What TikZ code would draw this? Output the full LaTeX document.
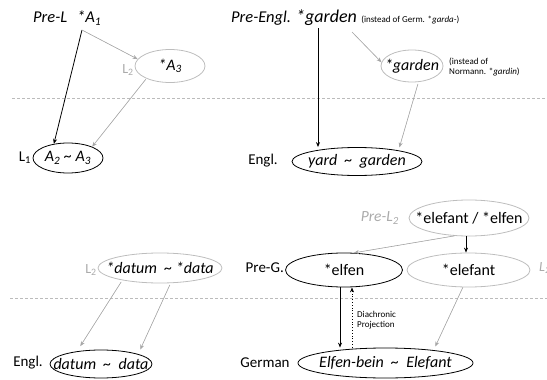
\documentclass[tikz,border=0pt]{standalone}
\usepackage{fontspec}
\setmainfont{Carlito}
\usetikzlibrary{shapes.geometric,arrows.meta}
\definecolor{lgray}{HTML}{A6A6A6}
\definecolor{egray}{HTML}{BDBDBD}
\definecolor{tgray}{HTML}{ABABAB}
\definecolor{dgray}{HTML}{BBBBBB}
% centred text that does not widen the ellipse around it
\newcommand\ovtext[1]{\makebox[0pt][c]{#1}}
\tikzset{
  ov/.style={ellipse, draw, inner sep=0pt, line width=0.8pt, font=\fontsize{16}{18}\selectfont},
  ovg/.style={ov, draw=egray},
  arr/.style={-{Stealth[length=5pt,width=4pt]}, line width=0.8pt},
  garr/.style={arr, draw=lgray, line width=0.6pt, fill=lgray},
  sep/.style={draw=dgray, dash pattern=on 3pt off 2pt, line width=0.6pt},
  lab/.style={inner sep=0pt, font=\fontsize{15}{17}\selectfont},
  ilab/.style={inner sep=0pt, font=\fontsize{16.5}{19}\selectfont},
  glab/.style={lab, text=tgray, font=\fontsize{14}{16}\selectfont},
  small/.style={inner sep=0pt, font=\fontsize{9}{10.5}\selectfont, align=left},
}
\begin{document}
\begin{tikzpicture}[x=1pt,y=-1pt]
\useasboundingbox (0,0) rectangle (547,380);
\clip (0,0) rectangle (547,380);

% separators between reconstructed and attested stages
\draw[sep] (12,98) -- (547,98);
\draw[sep] (10,298) -- (547,298);

% ---- general schema ----
\node[ilab, anchor=base west] (prel) at (33,23) {\textit{Pre-L}};
\node[ilab, anchor=base west] (a1) at (77,23) {\textit{*A\textsubscript{1}}};
\coordinate (a1o) at (82,30);
\node[ovg, minimum width=70, minimum height=33] (a3) at (170,66) {\ovtext{\textit{*A\textsubscript{3}}}};
\node[glab] (l2a) at (128,70) {L\textsubscript{2}};
\node[ov, minimum width=70, minimum height=30] (a2) at (68,158) {\ovtext{\textit{A\textsubscript{2} \textasciitilde\ A\textsubscript{3}}}};
\node[lab] (l1) at (25,158) {L\textsubscript{1}};
\draw[arr] (a1o) -- (a2.135);
\draw[garr] (a1o) -- (a3.168);
\draw[garr, shorten <=1pt] (a3.208) -- (a2.25);

% ---- garden ----
\node[ilab, anchor=base west] (pe) at (231,23) {\textit{Pre-Engl.} \fontsize{18}{20}\selectfont\textit{*garden}};
\node[small, anchor=base west] (inst) at ([xshift=4pt]pe.base east) {(instead of Germ. *\textit{garda-})};
\coordinate (pgb) at (318,28);
\coordinate (pgg) at (352,32);
\node[ovg, minimum width=62, minimum height=32] (gdn) at (412,66) {\ovtext{\textit{*garden}}};
\node[small, anchor=west] (norm) at (449,67) {(instead of\\Normann. *\textit{gardin})};
\node[ov, minimum width=130, minimum height=28] (yg) at (357,161.5) {\ovtext{\textit{yard \ \textasciitilde\ \ garden}}};
\node[lab] (engl1) at (263,161) {Engl.};
\draw[arr] (pgb) -- (pgb |- yg.north);
\draw[garr] (pgg) -- (gdn.173);
\draw[garr, shorten <=2pt, shorten >=3pt] (gdn.-68) -- (yg.15);

% ---- datum ----
\node[ovg, minimum width=124, minimum height=30] (dd2) at (160,268) {\ovtext{\textit{*datum \ \textasciitilde\ *data}}};
\node[glab] (l2b) at (91,270) {L\textsubscript{2}};
\node[ov, minimum width=102, minimum height=28] (dd) at (101,364) {\ovtext{\textit{datum \ \textasciitilde\ \ data}}};
\node[lab] (engl2) at (28,363) {Engl.};
\draw[garr, shorten <=2pt, shorten >=6pt] (dd2.198) -- (dd.152);
\draw[garr, shorten <=2pt, shorten >=5pt] (dd2.305) -- (dd.15);

% ---- Elfenbein ----
\node[glab, anchor=east, font=\fontsize{15.5}{17}\selectfont] (pl2lab) at (399,218) {\textit{Pre-L\textsubscript{2}}};
\node[ovg, minimum width=120, minimum height=36] (pl2) at (469,218) {\ovtext{*elefant / *elfen}};
\node[ov, minimum width=117, minimum height=34] (elf) at (344,270) {\ovtext{*elfen}};
\node[ovg, minimum width=123, minimum height=34] (ele) at (468.5,270) {\ovtext{*elefant}};
\node[lab, anchor=east] (preg) at (284,268) {Pre-G.};
\node[glab, anchor=west] (l2c) at (539,268) {\textit{L\textsubscript{2}}};
\node[ov, minimum width=175, minimum height=30] (ger) at (385.5,363) {\ovtext{\textit{Elfen-bein \ \textasciitilde\ \ Elefant}}};
\node[lab] (germ) at (265,363) {German};
\draw[arr] ([xshift=-3pt]pl2.south) -- ([xshift=-3pt]pl2.south |- ele.north);
\draw[garr] (pl2.231) -- (elf.60);
\draw[arr] ([xshift=-4pt]elf.south) -- ([xshift=-4pt]elf.south |- ger.north);
\draw[arr, dotted] ([xshift=8pt]elf.south |- ger.north) -- ([xshift=8pt]elf.south);
\node[small, anchor=west] (proj) at (357,320) {Diachronic\\Projection};
\draw[garr, shorten >=4pt] (ele.252) -- (ger.15);
\end{tikzpicture}
\end{document}
